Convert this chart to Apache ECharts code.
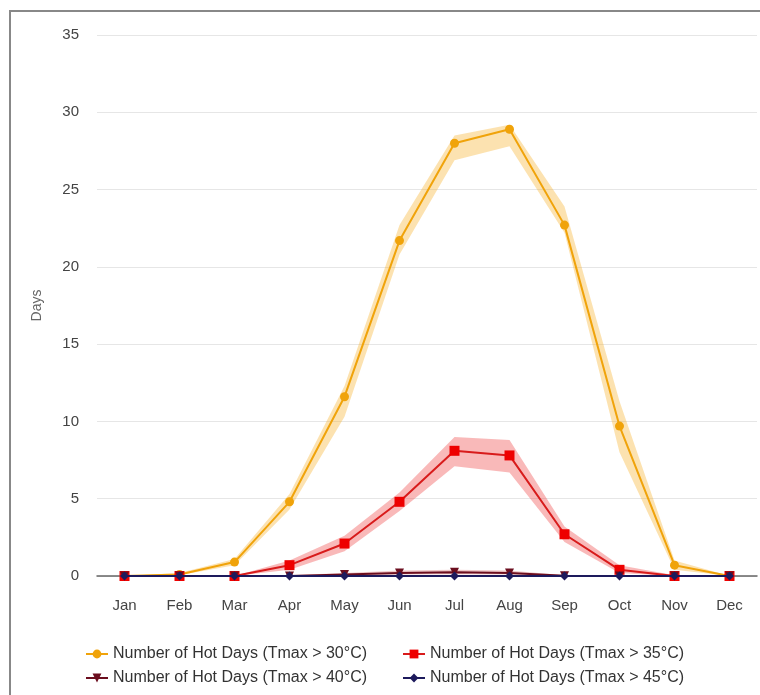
<!DOCTYPE html>
<html>
<head>
<meta charset="utf-8">
<script src="https://cdn.jsdelivr.net/npm/echarts@6/dist/echarts.min.js"></script>
<style>
html,body{margin:0;padding:0;background:#fff;}
#wrap{position:relative;width:760px;height:695px;overflow:hidden;}
#chart{position:absolute;left:0;top:0;width:760px;height:695px;}
#frame{position:absolute;left:9px;top:10px;width:800px;height:800px;border-left:2px solid #888;border-top:2px solid #888;pointer-events:none;}
</style>
</head>
<body>
<div id="wrap"><div id="chart"></div><div id="frame"></div></div>
<script>
const months = ['Jan','Feb','Mar','Apr','May','Jun','Jul','Aug','Sep','Oct','Nov','Dec'];
const yTicks = [0,5,10,15,20,25,30,35];

const names = [
  'Number of Hot Days (Tmax > 30°C)',
  'Number of Hot Days (Tmax > 35°C)',
  'Number of Hot Days (Tmax > 40°C)',
  'Number of Hot Days (Tmax > 45°C)'
];

const hot30     = [0, 0.1, 0.9, 4.8, 11.6, 21.7, 28.0, 28.9, 22.7, 9.7, 0.7, 0];
const hot30Low  = [0, 0.05, 0.7, 4.3, 10.3, 20.8, 26.9, 27.8, 22.2, 8.0, 0.4, 0];
const hot30High = [0, 0.2, 1.1, 5.3, 12.3, 22.7, 28.5, 29.2, 23.9, 11.3, 1.0, 0];

const hot35     = [0, 0, 0, 0.7, 2.1, 4.8, 8.1, 7.8, 2.7, 0.4, 0, 0];
const hot35Low  = [0, 0, 0, 0.4, 1.6, 4.2, 7.1, 6.7, 2.2, 0.2, 0, 0];
const hot35High = [0, 0, 0, 1.0, 2.6, 5.4, 9.0, 8.8, 3.2, 0.7, 0.05, 0];

const hot40     = [0, 0, 0, 0, 0.1, 0.2, 0.25, 0.2, 0.02, 0, 0, 0];
const hot40Low  = [0, 0, 0, 0, 0.05, 0.1, 0.12, 0.1, 0, 0, 0, 0];
const hot40High = [0, 0, 0, 0.05, 0.2, 0.35, 0.4, 0.35, 0.05, 0, 0, 0];

const hot45     = [0, 0, 0, 0, 0, 0, 0, 0, 0, 0, 0, 0];

const colors = {
  c30: '#F0A30A', c30band: 'rgba(246,172,30,0.35)',
  c35: '#D81B1B', c35m: '#EE0000', c35band: 'rgba(240,70,70,0.38)',
  c40: '#6B0D1E', c40band: 'rgba(200,40,40,0.25)',
  c45: '#1D1A5C'
};

function diff(hi, lo){ return hi.map((v,i)=> +(v - lo[i]).toFixed(3)); }

function band(id, lo, hi, color){
  return [
    {name: id+'lo', type:'line', stack:id, data: lo, symbol:'none', silent:true,
     lineStyle:{opacity:0}, z:1, animation:false},
    {name: id+'hi', type:'line', stack:id, data: diff(hi, lo), symbol:'none', silent:true,
     lineStyle:{opacity:0}, areaStyle:{color: color, opacity:1}, z:1, animation:false}
  ];
}

const chart = echarts.init(document.getElementById('chart'), null, {renderer:'canvas'});
const font = 'Arial, "Liberation Sans", sans-serif';

function legend(name, left, top){
  return {
    data:[name], left:left, top:top, orient:'horizontal',
    itemWidth:22, itemHeight:11, itemGap:10,
    textStyle:{fontSize:16, color:'#333', fontFamily:font}
  };
}

chart.setOption({
  animation:false,
  textStyle:{fontFamily:font},
  grid:{left:97, right:3, top:35, bottom:119, containLabel:false},
  legend:[
    legend(names[0], 80, 641),
    legend(names[1], 397, 641),
    legend(names[2], 80, 665),
    legend(names[3], 397, 665)
  ],
  xAxis:{
    type:'category', data: months, boundaryGap:true,
    axisLine:{show:true, lineStyle:{color:'#666', width:1.5}},
    axisTick:{show:false},
    axisLabel:{fontSize:15, color:'#444', margin:22, fontFamily:font}
  },
  yAxis:{
    type:'value', min:0, max:35, interval:5,
    name:'Days', nameLocation:'middle', nameGap:53,
    nameTextStyle:{fontSize:14, color:'#666', fontFamily:font},
    axisLine:{show:false}, axisTick:{show:false},
    axisLabel:{fontSize:15, color:'#444', margin:18, fontFamily:font,
      formatter:(v)=> yTicks.includes(v) ? String(v) : ''},
    splitLine:{lineStyle:{color:'#e6e6e6', width:1}}
  },
  series:[
    ...band('b30', hot30Low, hot30High, colors.c30band),
    ...band('b35', hot35Low, hot35High, colors.c35band),
    ...band('b40', hot40Low, hot40High, colors.c40band),
    {name:names[0], type:'line', data:hot30, symbol:'circle', symbolSize:9,
     lineStyle:{color:colors.c30, width:2}, itemStyle:{color:colors.c30}, z:3},
    {name:names[1], type:'line', data:hot35, symbol:'rect', symbolSize:10,
     lineStyle:{color:colors.c35, width:2}, itemStyle:{color:colors.c35m}, z:4},
    {name:names[2], type:'line', data:hot40, symbol:'triangle', symbolRotate:180, symbolSize:9,
     lineStyle:{color:colors.c40, width:2}, itemStyle:{color:colors.c40}, z:5},
    {name:names[3], type:'line', data:hot45, symbol:'diamond', symbolSize:9,
     lineStyle:{color:colors.c45, width:2}, itemStyle:{color:colors.c45}, z:6}
  ]
});
</script>
</body>
</html>
